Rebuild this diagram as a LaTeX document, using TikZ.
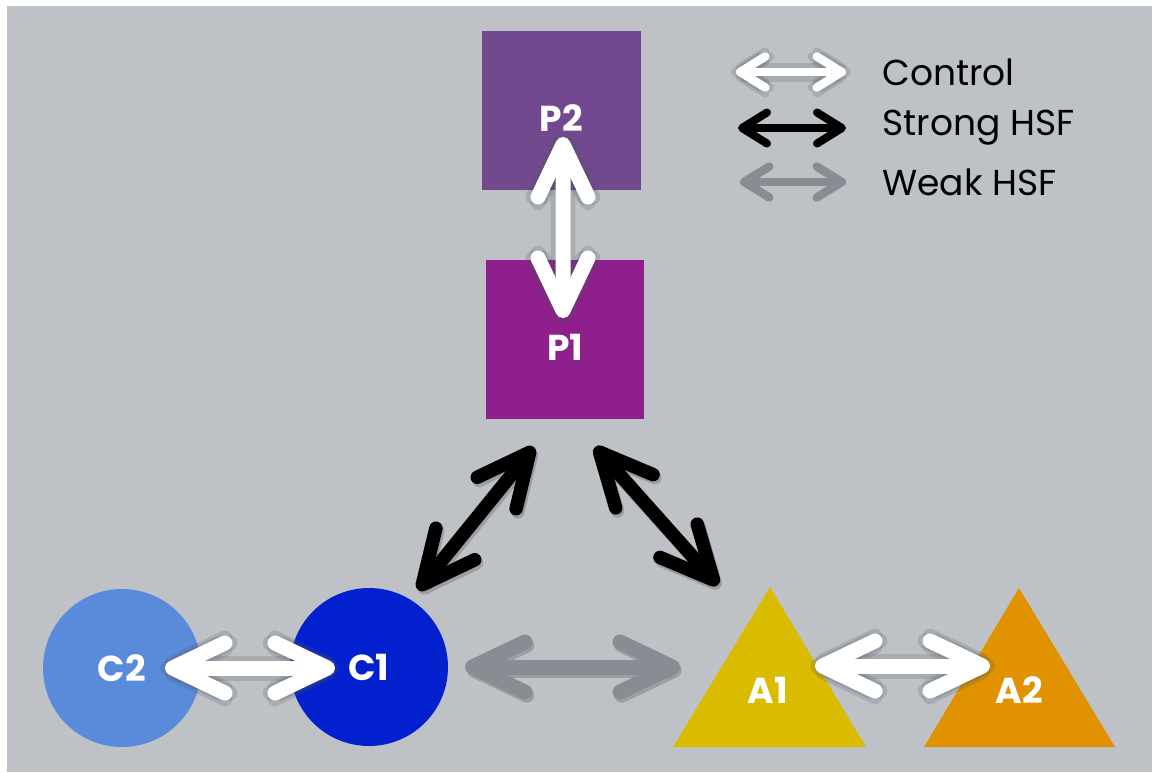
\documentclass[tikz,border=0pt]{standalone}
\usepackage{fontspec}
\setmainfont{Poppins}
\usetikzlibrary{arrows.meta,calc}

\definecolor{bggray}{HTML}{BEC2C6}
\definecolor{ptwo}{HTML}{72498F}
\definecolor{pone}{HTML}{8E1F8C}
\definecolor{ctwo}{HTML}{5A8ADA}
\definecolor{cone}{HTML}{0320CF}
\definecolor{aone}{HTML}{D9BB00}
\definecolor{atwo}{HTML}{E09200}
\definecolor{weakgray}{HTML}{878D92}
\definecolor{glowgray}{HTML}{4C5460}

\tikzset{
  lbl/.style={inner sep=0pt, text=white, font=\bfseries\fontsize{20.5}{22}\selectfont},
  box/.style={rectangle, inner sep=0pt, minimum width=3.18cm, minimum height=3.18cm},
  disc/.style={lbl, circle, minimum size=3.16cm},
  bigtip/.style={{Straight Barb[length=1.05cm, width=1.0cm, round]}-{Straight Barb[length=1.05cm, width=1.0cm, round]}},
  smalltip/.style={{Straight Barb[length=0.5cm, width=0.62cm, round]}-{Straight Barb[length=0.5cm, width=0.62cm, round]}},
  ctrl/.style={draw=white, line cap=round},
  strong/.style={draw=black, line cap=round},
  weak/.style={draw=weakgray, line cap=round},
  halo/.style={draw=glowgray, opacity=0.2, line cap=round},
  shade/.style={draw=black, opacity=0.18, line cap=round},
  legtext/.style={inner sep=0pt, anchor=west, font=\fontsize{20.5}{22}\selectfont}
}

\begin{document}
\begin{tikzpicture}[x=0.02cm, y=-0.02cm]
\useasboundingbox (0,0) rectangle (1152,772);
\fill[bggray] (7,6) rectangle (1152,772);

% shapes
\node[box, fill=ptwo, label={[lbl, yshift=-0.15cm]center:P2}] (P2) at (561.5,110.5) {};
\node[box, fill=pone, label={[lbl, yshift=-0.16cm]center:P1}] (P1) at (565,339.5) {};
\node[disc, fill=ctwo] (C2) at (122,668) {C2};
\node[disc, fill=cone] (C1) at (369,667) {C1};
\fill[aone] (770,587) -- (866,747) -- (673,747) -- cycle;
\fill[atwo] (1019,588) -- (1115,747) -- (924,747) -- cycle;
\node[lbl] (A1) at (768,690) {A1};
\node[lbl] (A2) at (1019,690) {A2};

% arrow ends
\coordinate (p2p1a) at ($(P2.center)+(1.5,26.5)$);
\coordinate (p2p1b) at ($(P1.center)+(-2,-21.5)$);
\coordinate (c2c1a) at ($(C2.center)+(43,0)$);
\coordinate (c2c1b) at ($(C1.center)+(-34,1)$);
\coordinate (a1a2a) at ($(A1.center)+(47,-24)$);
\coordinate (a1a2b) at ($(A2.center)+(-29,-24)$);
\coordinate (c1a1a) at ($(C1.center)+(96,0)$);
\coordinate (c1a1b) at ($(A1.center)+(-88,-23)$);
\coordinate (p1c1a) at ($(P1.center)+(-31,107.5)$);
\coordinate (p1c1b) at ($(C1.center)+(49,-77)$);
\coordinate (p1a1a) at ($(P1.center)+(30,107.5)$);
\coordinate (p1a1b) at ($(A1.center)+(-50,-105)$);

% legend text
\node[legtext] (lc) at (882,72) {Control};
\node[legtext] (ls) at (882,128) {Strong HSF};
\node[legtext] (lw) at (882,182) {Weak HSF};
\coordinate (lca) at ($(lc.west)+(-146,0)$);
\coordinate (lcb) at ($(lc.west)+(-36,0)$);

% glow and shadow
\foreach \dx/\dy in {2.8pt/0pt, -2.8pt/0pt, 0pt/2.8pt, 0pt/-3.2pt} {
  \begin{scope}[transform canvas={shift={(\dx,\dy)}}]
  \draw[halo, bigtip, line width=0.3cm] (p2p1a) -- (p2p1b);
  \draw[halo, bigtip, line width=0.3cm] (c2c1a) -- (c2c1b);
  \draw[halo, bigtip, line width=0.3cm] (a1a2a) -- (a1a2b);
  \draw[halo, smalltip, line width=0.17cm] (lca) -- (lcb);
  \end{scope}
}
\begin{scope}[transform canvas={shift={(1pt,-1.8pt)}}]
\draw[shade, bigtip, line width=0.3cm] (c1a1a) -- (c1a1b);
\draw[shade, bigtip, line width=0.27cm] (p1c1a) -- (p1c1b);
\draw[shade, bigtip, line width=0.27cm] (p1a1a) -- (p1a1b);
\end{scope}

% links
\draw[ctrl, bigtip, line width=0.3cm] (p2p1a) -- (p2p1b);
\draw[ctrl, bigtip, line width=0.3cm] (c2c1a) -- (c2c1b);
\draw[ctrl, bigtip, line width=0.3cm] (a1a2a) -- (a1a2b);
\draw[weak, bigtip, line width=0.3cm] (c1a1a) -- (c1a1b);
\draw[strong, bigtip, line width=0.27cm] (p1c1a) -- (p1c1b);
\draw[strong, bigtip, line width=0.27cm] (p1a1a) -- (p1a1b);

% legend arrows
\draw[ctrl, smalltip, line width=0.17cm] (lca) -- (lcb);
\draw[strong, smalltip, line width=0.16cm] ($(ls.west)+(-144,0)$) -- ($(ls.west)+(-36,0)$);
\draw[weak, smalltip, line width=0.17cm] ($(lw.west)+(-142,0)$) -- ($(lw.west)+(-36,0)$);
\end{tikzpicture}
\end{document}
